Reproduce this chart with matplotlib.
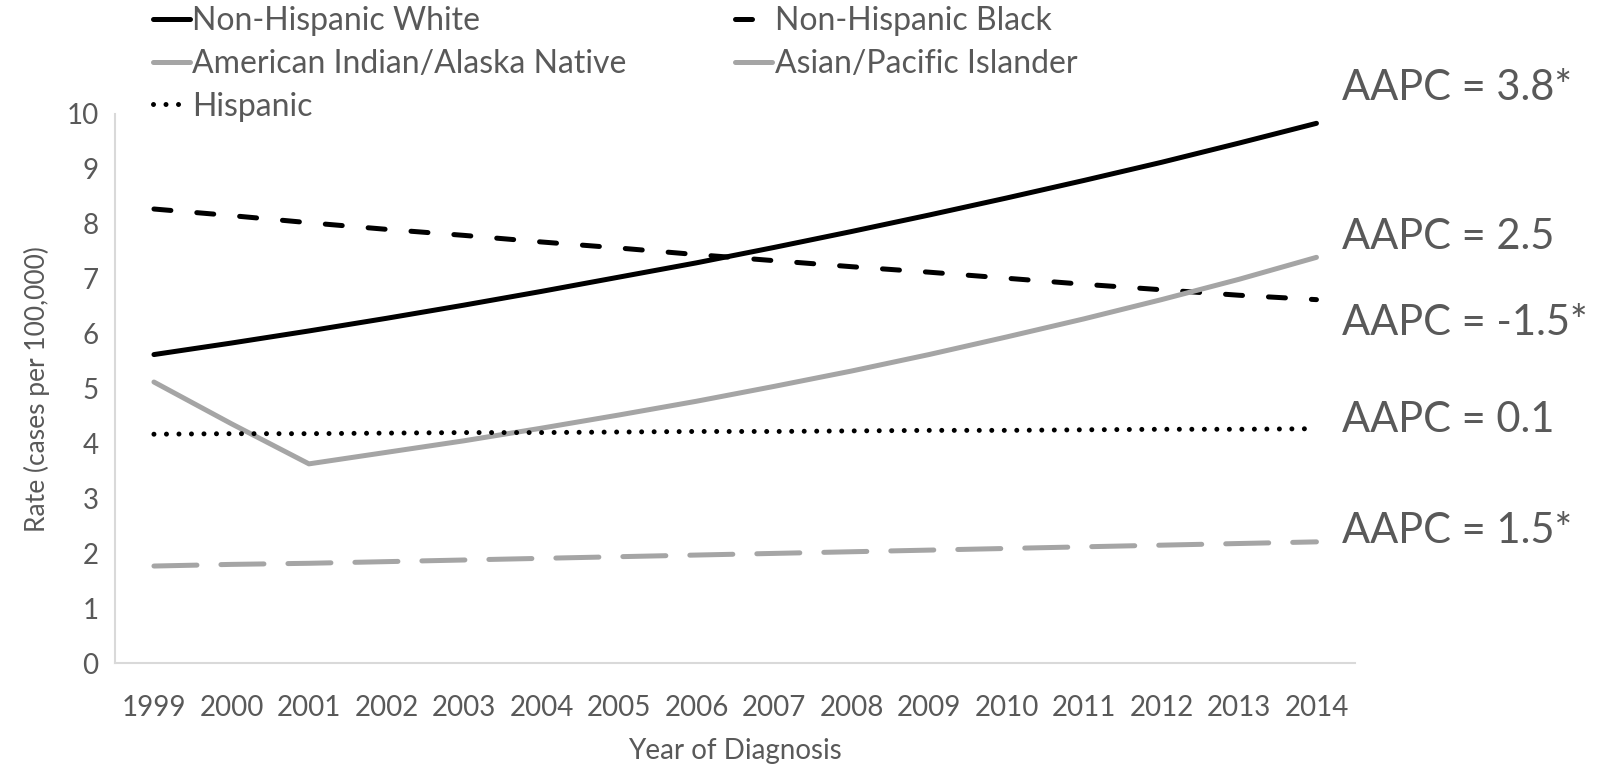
import matplotlib.pyplot as plt

plt.rcParams['font.family'] = ['Lato', 'DejaVu Sans']

years = list(range(1999, 2015))

# annual rates (cases per 100,000)
nh_white = [5.62, 5.83, 6.05, 6.28, 6.52, 6.77, 7.03, 7.29, 7.57, 7.86, 8.16, 8.47, 8.79, 9.12, 9.47, 9.83]
nh_black = [8.27, 8.15, 8.02, 7.90, 7.79, 7.67, 7.56, 7.44, 7.33, 7.22, 7.12, 7.01, 6.90, 6.80, 6.70, 6.62]
ai_an = [5.12, 4.36, 3.63, 3.84, 4.05, 4.28, 4.52, 4.77, 5.04, 5.32, 5.62, 5.94, 6.27, 6.62, 6.99, 7.39]
api = [1.77, 1.80, 1.82, 1.85, 1.88, 1.91, 1.94, 1.97, 2.00, 2.03, 2.06, 2.09, 2.12, 2.15, 2.18, 2.21]
hispanic = [4.17, 4.18, 4.18, 4.19, 4.20, 4.20, 4.21, 4.22, 4.22, 4.23, 4.24, 4.24, 4.25, 4.26, 4.26, 4.27]

aapc_labels = ['AAPC = 3.8*', 'AAPC = 2.5', 'AAPC = -1.5*', 'AAPC = 0.1', 'AAPC = 1.5*']
aapc_y = [10.48, 7.76, 6.2, 4.43, 2.4]

BLACK = '#000000'
GRAY = '#A5A5A5'
TEXT = '#595959'

fig = plt.figure(figsize=(16, 7.65), dpi=100)
ax = fig.add_axes([0.072, 0.133, 0.775, 0.718])

x = list(range(len(years)))
l_white, = ax.plot(x, nh_white, color=BLACK, lw=3.6, solid_capstyle='round')
l_black, = ax.plot(x, nh_black, color=BLACK, lw=3.6,
                   linestyle=(0, (3.4, 5.2)), dash_capstyle='round')
l_aian, = ax.plot(x, ai_an, color=GRAY, lw=3.6, solid_capstyle='round')
l_api, = ax.plot(x, api, color=GRAY, lw=3.6,
                 linestyle=(0, (8.6, 4.8)), dash_capstyle='round')
l_hisp, = ax.plot(x, hispanic, color=BLACK, lw=3.6,
                  linestyle=(0, (0.001, 2.5)), dash_capstyle='round')

ax.set_xlim(-0.5, len(years) - 0.5)
ax.set_ylim(0, 10)
ax.set_xticks(x)
ax.set_xticklabels([str(y) for y in years])
ax.set_yticks(range(0, 11))
ax.tick_params(length=0, labelsize=20, colors=TEXT)
ax.tick_params(axis='x', pad=23)
ax.tick_params(axis='y', pad=12)

for side in ['top', 'right']:
    ax.spines[side].set_visible(False)
for side in ['left', 'bottom']:
    ax.spines[side].set_color('#D9D9D9')
    ax.spines[side].set_linewidth(1.5)

ax.set_xlabel('Year of Diagnosis', fontsize=20, color=TEXT, labelpad=12)
ax.set_ylabel('Rate (cases per 100,000)', fontsize=19, color=TEXT, labelpad=12)

# AAPC annotations beside the line ends
for label, y in zip(aapc_labels, aapc_y):
    ax.text(len(years) - 0.5 - 0.17, y, label, fontsize=30, color=TEXT,
            va='center', ha='left', clip_on=False)

handles = [l_white, l_aian, l_hisp, l_black, l_api]
names = ['Non-Hispanic White', 'American Indian/Alaska Native', 'Hispanic',
         'Non-Hispanic Black', 'Asian/Pacific Islander']
fig.legend(handles, names, ncol=2, loc='upper left', bbox_to_anchor=(0.0956, 0.992),
           frameon=False, fontsize=23, labelcolor=TEXT, handlelength=1.15,
           handletextpad=0.08, columnspacing=3.4, labelspacing=0.4,
           borderaxespad=0, borderpad=0)

fig.savefig('out.png', dpi=100)
